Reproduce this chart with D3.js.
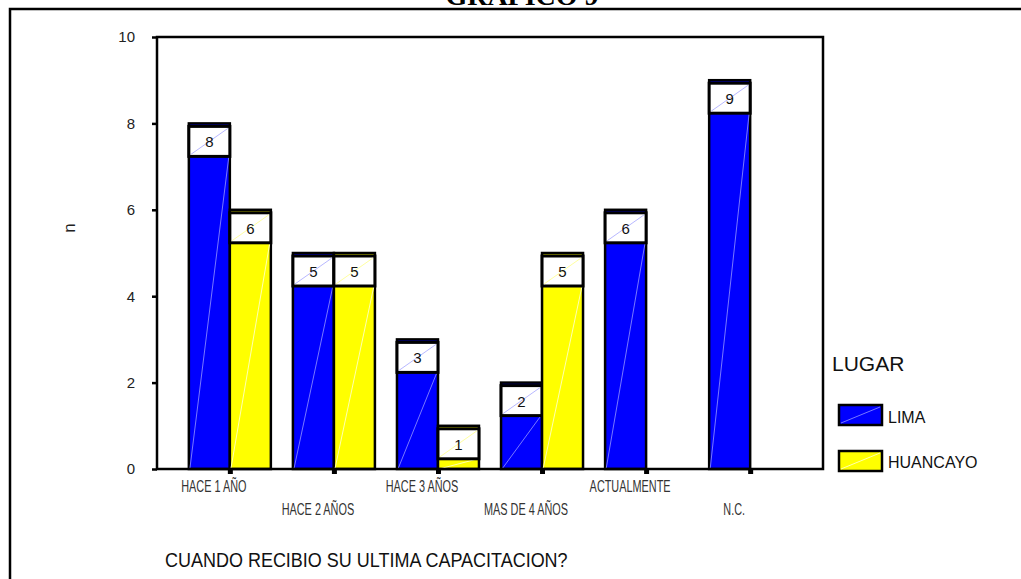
<!DOCTYPE html>
<html>
<head>
<meta charset="utf-8">
<script src="https://cdn.jsdelivr.net/npm/d3@7"></script>
<style>
  body { margin: 0; background: #fff; }
  text { font-family: "Liberation Sans", Arial, sans-serif; }
</style>
</head>
<body>
<div id="chart-area"></div>
<script>
let categories = ["HACE 1 AÑO", "HACE 2 AÑOS", "HACE 3 AÑOS", "MAS DE 4 AÑOS", "ACTUALMENTE", "N.C."]
let series = ["LIMA", "HUANCAYO"]
let limaValues = [8, 5, 3, 2, 6, 9]
let huancayoValues = [6, 5, 1, 5, 0, 0]
let yTicks = [0, 2, 4, 6, 8, 10]

let width = 1021, height = 579
let plot = { left: 157, right: 823, top: 37, bottom: 469 }
let fills = { LIMA: "#0000ff", HUANCAYO: "#ffff00" }
let diag = { LIMA: "#7878ff", HUANCAYO: "#ffffb0" }
let boxDiag = { LIMA: "#b8b8ff", HUANCAYO: "#ffffa0" }

let svg = d3.select("#chart-area").append("svg")
  .attr("width", width)
  .attr("height", height)

// outer frame (only top and left visible)
svg.append("path")
  .attr("d", "M10," + height + " V9 H" + width)
  .attr("fill", "none")
  .attr("stroke", "#000")
  .attr("stroke-width", 2.5)

// title sits above the frame, clipped like in the source
svg.append("text")
  .attr("x", 522)
  .attr("y", 5)
  .attr("text-anchor", "middle")
  .style("font-family", "'Liberation Serif', 'Times New Roman', serif")
  .style("font-weight", "bold")
  .style("font-size", "28px")
  .text("GRAFICO 9")

let y = d3.scaleLinear()
  .domain([0, 10])
  .range([plot.bottom, plot.top])

let x = d3.scalePoint()
  .domain(categories)
  .range([plot.left, plot.right])
  .padding(0.7)

let xSub = d3.scaleBand()
  .domain(series)
  .range([-41, 41])

let data = []
categories.forEach((c, i) => {
  data.push({ cat: c, ser: "LIMA", value: limaValues[i] })
  data.push({ cat: c, ser: "HUANCAYO", value: huancayoValues[i] })
})
data = data.filter(d => d.value > 0)

// y axis
let yAxis = svg.append("g")
  .attr("transform", "translate(" + plot.left + ",0)")
  .call(d3.axisLeft(y).tickValues(yTicks).tickSize(5).tickPadding(17))
yAxis.select(".domain").remove()
yAxis.selectAll("line").attr("stroke", "#000").attr("stroke-width", 2.5)
yAxis.selectAll("text")
  .style("font-size", "15px")
  .style("font-family", "'Liberation Sans', Arial, sans-serif")
  .attr("fill", "#222")

svg.append("text")
  .attr("transform", "translate(75,228) rotate(-90)")
  .attr("text-anchor", "middle")
  .style("font-size", "17px")
  .attr("fill", "#222")
  .text("n")

// bars
let barGroup = svg.append("g")
let boxH = 30

let bars = barGroup.selectAll("g.bar")
  .data(data)
  .enter().append("g")
  .attr("class", "bar")

bars.append("rect")
  .attr("x", d => x(d.cat) + xSub(d.ser))
  .attr("y", d => y(d.value))
  .attr("width", xSub.bandwidth())
  .attr("height", d => y(0) - y(d.value))
  .attr("fill", d => fills[d.ser])
  .attr("stroke", "#000")
  .attr("stroke-width", 2.5)

// faint diagonal below the label box
bars.append("line")
  .attr("x1", d => x(d.cat) + xSub(d.ser) + 1)
  .attr("y1", y(0))
  .attr("x2", d => x(d.cat) + xSub(d.ser) + xSub.bandwidth() - 1)
  .attr("y2", d => Math.min(y(d.value) + 3 + boxH, y(0)))
  .attr("stroke", d => diag[d.ser])
  .attr("stroke-width", 1)

bars.append("rect")
  .attr("x", d => x(d.cat) + xSub(d.ser))
  .attr("y", d => y(d.value) + 3)
  .attr("width", xSub.bandwidth())
  .attr("height", boxH)
  .attr("fill", "#fff")
  .attr("stroke", "#000")
  .attr("stroke-width", 3)

bars.append("line")
  .attr("x1", d => x(d.cat) + xSub(d.ser) + 2)
  .attr("y1", d => y(d.value) + 3 + boxH - 2)
  .attr("x2", d => x(d.cat) + xSub(d.ser) + xSub.bandwidth() - 2)
  .attr("y2", d => y(d.value) + 5)
  .attr("stroke", d => boxDiag[d.ser])
  .attr("stroke-width", 1)

bars.append("text")
  .attr("x", d => x(d.cat) + xSub(d.ser) + xSub.bandwidth() / 2)
  .attr("y", d => y(d.value) + 3 + 21)
  .attr("text-anchor", "middle")
  .style("font-size", "15px")
  .attr("fill", "#111")
  .text(d => d.value)

// plot frame
svg.append("rect")
  .attr("x", plot.left)
  .attr("y", plot.top)
  .attr("width", plot.right - plot.left)
  .attr("height", plot.bottom - plot.top)
  .attr("fill", "none")
  .attr("stroke", "#000")
  .attr("stroke-width", 2.5)

// x axis ticks
let xAxis = svg.append("g")
  .attr("transform", "translate(0," + plot.bottom + ")")
  .call(d3.axisBottom(x).tickSize(5).tickFormat(""))
xAxis.select(".domain").remove()
xAxis.selectAll("line").attr("stroke", "#000").attr("stroke-width", 5)

// staggered category labels, narrow
svg.append("g").selectAll("text")
  .data(categories)
  .enter().append("text")
  .attr("transform", (d, i) => "translate(" + (x(d) - 16) + "," + (i % 2 === 0 ? 492 : 515) + ") scale(0.68,1)")
  .attr("text-anchor", "middle")
  .style("font-size", "16px")
  .attr("fill", "#333")
  .text(d => d)

svg.append("text")
  .attr("transform", "translate(165,567) scale(1,1.15)")
  .style("font-size", "18px")
  .attr("fill", "#111")
  .text("CUANDO RECIBIO SU ULTIMA CAPACITACION?")

// legend
let legend = svg.append("g")
legend.append("text")
  .attr("x", 832)
  .attr("y", 371)
  .style("font-size", "21px")
  .attr("fill", "#111")
  .text("LUGAR")

let items = legend.selectAll("g.item")
  .data(series)
  .enter().append("g")
  .attr("class", "item")
  .attr("transform", (d, i) => "translate(839," + (405 + i * 46) + ")")

items.append("rect")
  .attr("width", 43)
  .attr("height", 20)
  .attr("fill", d => fills[d])
  .attr("stroke", "#000")
  .attr("stroke-width", 2.5)
items.append("line")
  .attr("x1", 2).attr("y1", 18).attr("x2", 41).attr("y2", 2)
  .attr("stroke", d => diag[d])
  .attr("stroke-width", 1)
items.append("text")
  .attr("x", 49)
  .attr("y", (d, i) => i === 0 ? 18 : 17)
  .style("font-size", "16px")
  .attr("fill", "#111")
  .text(d => d)
</script>
</body>
</html>
